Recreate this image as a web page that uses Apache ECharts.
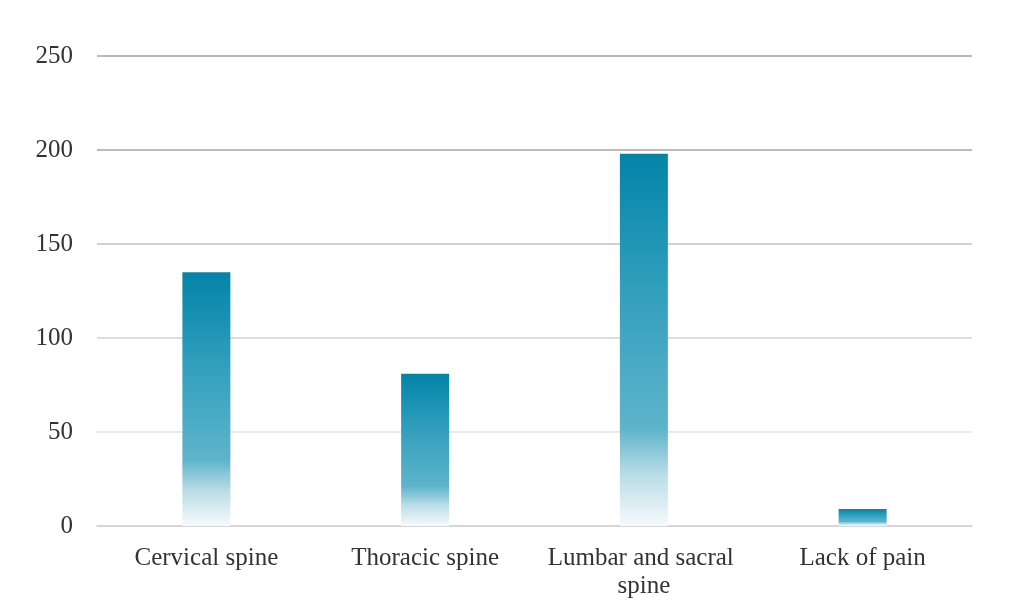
<!DOCTYPE html>
<html>
<head>
<meta charset="utf-8">
<script src="https://cdn.jsdelivr.net/npm/echarts@6/dist/echarts.min.js"></script>
<style>html,body{margin:0;padding:0;background:#fff}#c{width:1024px;height:612px}</style>
</head>
<body>
<div id="c"></div>
<script>
const categories = ['Cervical spine', 'Thoracic spine', 'Lumbar and sacral spine', 'Lack of pain'];
const values = [135, 81, 198, 9];
const yMin = 0, yMax = 250, yStep = 50;

const chart = echarts.init(document.getElementById('c'), null, {renderer: 'canvas'});
const font = '"Liberation Serif", "DejaVu Serif", serif';
chart.setOption({
  animation: false,
  backgroundColor: '#ffffff',
  grid: {left: 97, right: 52, top: 56, bottom: 86},
  xAxis: {
    type: 'category',
    data: categories,
    axisTick: {show: false},
    axisLine: {show: true, lineStyle: {color: '#d4d4d4', width: 1.5}},
    axisLabel: {
      color: '#333', fontFamily: font, fontSize: 25, margin: 18,
      width: 205, overflow: 'break', lineHeight: 28, interval: 0
    }
  },
  yAxis: {
    type: 'value', min: yMin, max: yMax, interval: yStep,
    axisLine: {show: false}, axisTick: {show: false},
    axisLabel: {color: '#333', fontFamily: font, fontSize: 25, margin: 24},
    splitLine: {lineStyle: {color: ['#d4d4d4', '#e2e2e2', '#d2d2d2', '#c0c0c0', '#a4a4a4', '#a0a0a0'], width: 1.5}}
  },
  series: [{
    type: 'bar',
    data: values,
    barWidth: 48,
    itemStyle: {
      color: new echarts.graphic.LinearGradient(0, 0, 0, 1, [
        {offset: 0, color: '#0284a8'},
        {offset: 0.4, color: '#36a1bf'},
        {offset: 0.74, color: '#5eb4cb'},
        {offset: 0.86, color: '#b9dce7'},
        {offset: 1, color: '#f6fafc'}
      ])
    }
  }]
});
</script>
</body>
</html>
